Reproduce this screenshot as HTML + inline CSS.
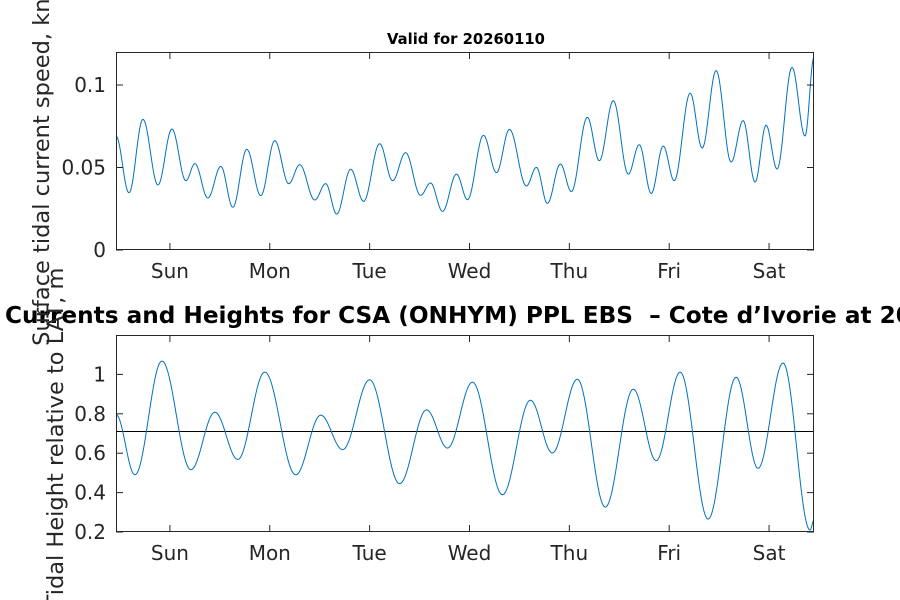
<!DOCTYPE html>
<html><head><meta charset="utf-8"><style>
html,body{margin:0;padding:0;background:#fff;}
svg{display:block;font-family:"DejaVu Sans","Liberation Sans",sans-serif;}
</style></head><body>
<svg id="c" width="900" height="600" viewBox="0 0 900 600"></svg>
<script>
// Time in days from left edge of axes
const speedTimes=[0,0.13,0.27,0.42,0.56,0.70,0.79,0.92,1.05,1.17,1.31,1.45,1.59,1.73,1.84,1.99,2.10,2.21,2.35,2.48,2.64,2.77,2.90,3.05,3.15,3.27,3.41,3.52,3.68,3.81,3.94,4.11,4.21,4.32,4.45,4.56,4.72,4.84,4.98,5.13,5.24,5.36,5.48,5.59,5.75,5.87,6.01,6.16,6.28,6.40,6.51,6.62,6.77,6.90,6.99];
const speedValues=[0.069,0.0347,0.0792,0.0394,0.0733,0.042,0.0523,0.0315,0.0507,0.0259,0.061,0.0329,0.0663,0.0402,0.0517,0.0303,0.0402,0.0218,0.0489,0.0295,0.0644,0.042,0.059,0.0331,0.0406,0.0234,0.046,0.0305,0.0695,0.0469,0.0731,0.0388,0.0501,0.0283,0.0521,0.0354,0.0804,0.0541,0.0905,0.046,0.0638,0.0343,0.063,0.042,0.095,0.0618,0.1087,0.0533,0.0784,0.0412,0.0756,0.0491,0.1107,0.0691,0.1168];
const heightTimes=[0,0.19,0.46,0.75,0.99,1.22,1.49,1.80,2.05,2.27,2.54,2.84,3.11,3.32,3.57,3.87,4.15,4.37,4.62,4.90,5.18,5.41,5.65,5.93,6.21,6.43,6.68,6.95,6.99];
const heightValues=[0.796,0.490,1.068,0.516,0.808,0.568,1.012,0.490,0.793,0.618,0.973,0.445,0.82,0.626,0.961,0.389,0.869,0.601,0.976,0.326,0.925,0.562,1.012,0.265,0.986,0.523,1.058,0.210,0.261];
const refHeight=[0.71];
const dayLabels=["Sun","Mon","Tue","Wed","Thu","Fri","Sat"];
const dayTicks=[0.54,1.54,2.54,3.54,4.54,5.54,6.54];
const speedTicks=[0,0.05,0.1];
const speedTickLabels=["0","0.05","0.1"];
const heightTicks=[0.2,0.4,0.6,0.8,1.0];
const heightTickLabels=["0.2","0.4","0.6","0.8","1"];

const NS="http://www.w3.org/2000/svg";
const svg=document.getElementById('c');
function mk(tag,attrs,parent){const e=document.createElementNS(NS,tag);for(const k in attrs)e.setAttribute(k,attrs[k]);(parent||svg).appendChild(e);return e;}
const X0=116,X1=814,TMAX=6.99;
const xs=t=>X0+(t/TMAX)*(X1-X0);

function curve(times,vals,ys){
  let d="";
  for(let i=0;i<times.length-1;i++){
    const n=20;
    for(let j=0;j<=n;j++){
      if(i>0&&j===0)continue;
      const f=j/n, w=(1-Math.cos(Math.PI*f))/2;
      const t=times[i]+(times[i+1]-times[i])*f;
      const v=vals[i]+(vals[i+1]-vals[i])*w;
      d+=(d?"L":"M")+xs(t).toFixed(2)+","+ys(v).toFixed(2);
    }
  }
  return d;
}

function axes(name,Y0,Y1,ymin,ymax,yt,ytl,times,vals,ref){
  const ys=v=>Y1-(v-ymin)/(ymax-ymin)*(Y1-Y0);
  const g=mk('g',{});
  
  
  mk('rect',{x:X0,y:Y0,width:X1-X0,height:Y1-Y0,fill:'#fff',stroke:'none'},g);
  if(ref){
    const r=mk('line',{x1:X0,x2:X1,y1:ys(ref[0]),y2:ys(ref[0]),stroke:'#000','stroke-width':1},g);
    
    
  }
  const p=mk('path',{d:curve(times,vals,ys),fill:'none',stroke:'#0072BD','stroke-width':1},g);
  
  
  const b=mk('rect',{x:X0+0.5,y:Y0+0.5,width:X1-X0-1,height:Y1-Y0-1,fill:'none',stroke:'#262626','stroke-width':1},g);
  
  
  dayTicks.forEach((t,i)=>{
    const x=xs(t);
    mk('line',{x1:x,x2:x,y1:Y1,y2:Y1-7,stroke:'#262626'},g);
    mk('line',{x1:x,x2:x,y1:Y0,y2:Y0+7,stroke:'#262626'},g);
    const tx=mk('text',{x:x,y:Y1+28,'text-anchor':'middle','font-size':20,fill:'#262626'},g);
    tx.textContent=dayLabels[i];
    
    
  });
  yt.forEach((v,i)=>{
    const y=ys(v);
    mk('line',{x1:X0,x2:X0+7,y1:y,y2:y,stroke:'#262626'},g);
    mk('line',{x1:X1,x2:X1-7,y1:y,y2:y,stroke:'#262626'},g);
    const tx=mk('text',{x:X0-10,y:y+7,'text-anchor':'end','font-size':20,fill:'#262626'},g);
    tx.textContent=ytl[i];
    
    
  });
}
axes('speed',52,250,0,0.12,speedTicks,speedTickLabels,speedTimes,speedValues,null);
axes('height',335,532,0.2,1.2,heightTicks,heightTickLabels,heightTimes,heightValues,refHeight);

let t=mk('text',{x:466,y:44,'text-anchor':'middle','font-size':14.8,'font-weight':'bold',fill:'#000'});
t.textContent='Valid for 20260110';


t=mk('text',{x:5,y:323,'font-size':23.2,'font-weight':'bold',fill:'#000'});
t.textContent='Currents and Heights for CSA (ONHYM) PPL EBS \u00a0\u2013 Cote d\u2019Ivorie at 20260110';


t=mk('text',{x:0,y:0,'text-anchor':'middle','font-size':22.5,fill:'#262626',transform:'translate(49,155) rotate(-90)'});
t.textContent='Surface tidal current speed, knots';


t=mk('text',{x:0,y:0,'text-anchor':'middle','font-size':22.5,fill:'#262626',transform:'translate(63,438) rotate(-90)'});
t.textContent='Tidal Height relative to LAT, m';


</script>
</body></html>
